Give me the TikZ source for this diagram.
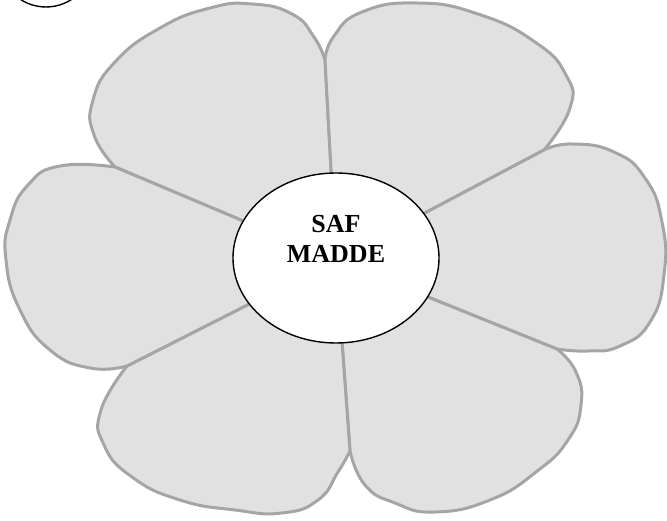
\documentclass[tikz,border=0pt]{standalone}
\usepackage{fontspec}
\setmainfont{Liberation Serif}
\usetikzlibrary{shapes.geometric}
\definecolor{petalfill}{RGB}{225,225,225}
\definecolor{petaledge}{RGB}{165,165,165}
\tikzset{
  petal/.style={fill=petalfill, draw=petaledge, line width=3pt, line join=round},
  core/.style={ellipse, draw=black, line width=1.4pt, fill=white, minimum width=206pt, minimum height=170pt, inner sep=0pt},
  coretext/.style={align=center, inner sep=0pt, font=\fontsize{26}{30}\selectfont\bfseries}
}
\begin{document}
\begin{tikzpicture}[x=1pt,y=-1pt]
\useasboundingbox (0,0) rectangle (667,521);
\coordinate (C) at (336,260);
\coordinate (N1) at (325,60);
\coordinate (N2) at (544,150);
\coordinate (N3) at (557,349);
\coordinate (N4) at (350,451);
\coordinate (N5) at (127,366);
\coordinate (N6) at (115,167);
% top-left petal
\draw[petal] (C) -- (N6) -- plot[smooth, tension=0.85] coordinates {(N6) (94,135) (93,100) (115,62) (160,28) (210,8) (252,4) (292,14) (314,37) (N1)} -- cycle;
% top-right petal
\draw[petal] (C) -- (N1) -- plot[smooth, tension=0.85] coordinates {(N1) (334,36) (362,12) (417,3) (478,14) (535,42) (566,75) (570,108) (N2)} -- cycle;
% right petal
\draw[petal] (C) -- (N2) -- plot[smooth, tension=0.85] coordinates {(N2) (572,144) (614,152) (645,178) (662,222) (664,275) (650,322) (620,346) (588,351) (N3)} -- cycle;
% bottom-right petal
\draw[petal] (C) -- (N3) -- plot[smooth, tension=0.85] coordinates {(N3) (576,372) (581,405) (568,440) (536,472) (490,500) (435,512) (395,503) (365,485) (N4)} -- cycle;
% bottom-left petal
\draw[petal] (C) -- (N4) -- plot[smooth, tension=0.85] coordinates {(N4) (338,472) (318,500) (282,513) (235,510) (180,500) (132,477) (104,445) (101,410) (N5)} -- cycle;
% left petal
\draw[petal] (C) -- (N5) -- plot[smooth, tension=0.85] coordinates {(N5) (90,368) (50,350) (20,310) (6,260) (10,220) (28,185) (60,166) (N6)} -- cycle;
\node[core] (center) at (336,258) {};
\node[coretext] (label) at (336,239) {SAF\\MADDE};
\draw[black, line width=1.4pt] (46,-40) circle (47);
\end{tikzpicture}
\end{document}
